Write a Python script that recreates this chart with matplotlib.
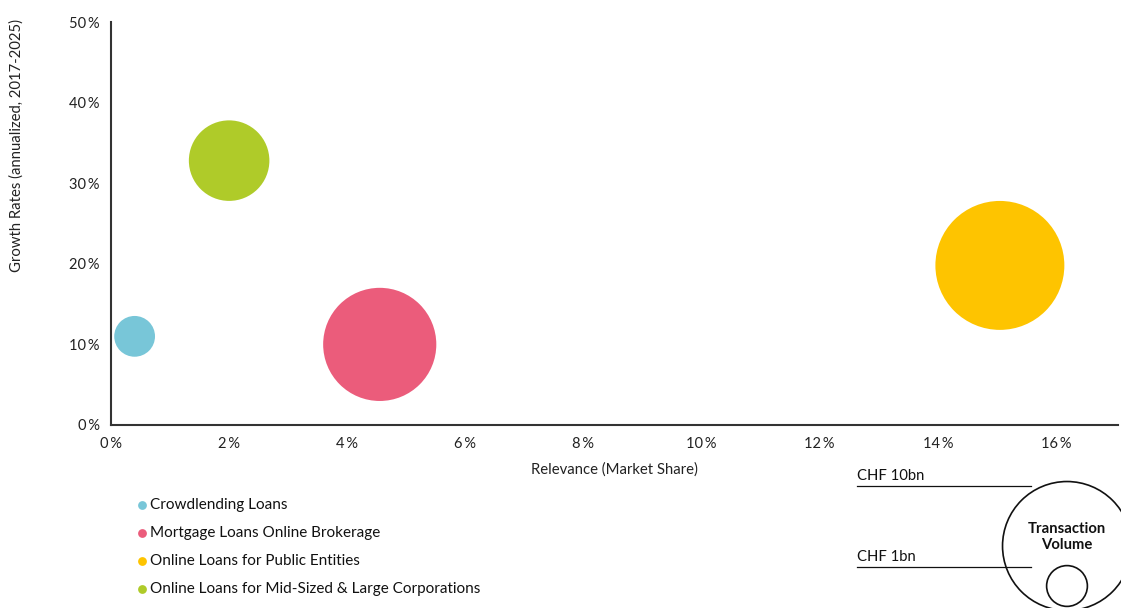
import matplotlib
matplotlib.use("Agg")
import matplotlib.pyplot as plt
from matplotlib.ticker import FuncFormatter

plt.rcParams['font.family'] = ['Lato', 'DejaVu Sans']

# Segments of the Swiss online lending market
segments = [
    "Crowdlending Loans",
    "Mortgage Loans Online Brokerage",
    "Online Loans for Public Entities",
    "Online Loans for Mid-Sized & Large Corporations",
]
market_share = [0.40, 4.55, 15.05, 2.0]      # % market share
growth_rate = [11.0, 10.0, 19.8, 32.8]        # % annualized growth 2017-2025
volume_bn = [1.0, 7.7, 10.0, 3.9]             # transaction volume, CHF bn
colors = ["#78C6D8", "#EB5C7B", "#FEC400", "#AFCB29"]

# Reference volumes for the size key
key_volumes = [10, 1]
key_labels = ["CHF 10bn", "CHF 1bn"]

x_ticks = [0, 2, 4, 6, 8, 10, 12, 14, 16]
y_ticks = [0, 10, 20, 30, 40, 50]

W, H, DPI = 1121, 608, 100
SIZE_PER_BN = 862.0   # marker area (pt^2) per CHF bn

fig = plt.figure(figsize=(W / DPI, H / DPI), dpi=DPI)

ax = fig.add_axes([111 / W, (H - 425) / H, (1118 - 111) / W, (425 - 22) / H])
ax.scatter(market_share, growth_rate, s=[v * SIZE_PER_BN for v in volume_bn],
           c=colors, linewidths=0, clip_on=False, zorder=3)
ax.set_xlim(0, 17.05)
ax.set_ylim(0, 50)
ax.set_xticks(x_ticks)
ax.set_yticks(y_ticks)
pct = FuncFormatter(lambda v, _: f"{v:.0f}\u2009%")
ax.xaxis.set_major_formatter(pct)
ax.yaxis.set_major_formatter(pct)
ax.tick_params(length=0, labelsize=10.5, colors="#222222", pad=8)
ax.tick_params(axis="x", pad=9)
for side in ("top", "right"):
    ax.spines[side].set_visible(False)
for side in ("left", "bottom"):
    ax.spines[side].set_color("#333333")
    ax.spines[side].set_linewidth(1.5)
ax.set_xlabel("Relevance (Market Share)", fontsize=10.7, color="#222222", labelpad=8)

fig.text(17 / W, 1 - 145 / H, "Growth Rates (annualized, 2017-2025)", rotation=90,
         ha="center", va="center", fontsize=10.7, color="#222222")

# Overlay in pixel coordinates for the legend and size key
ov = fig.add_axes([0, 0, 1, 1], facecolor="none")
ov.set_xlim(0, W)
ov.set_ylim(H, 0)
ov.axis("off")

legend_y = [505, 533, 561, 589]
for label, col, y in zip(segments, colors, legend_y):
    ov.scatter([142], [y], s=40, c=col, linewidths=0)
    ov.text(150, y, label, ha="left", va="center", fontsize=11, color="#111111")

# Size key
key_centers = [(1067, 546), (1067, 586)]
key_line_y = [486, 567]
for vol, lab, (cx, cy), ly in zip(key_volumes, key_labels, key_centers, key_line_y):
    ov.scatter([cx], [cy], s=vol * SIZE_PER_BN, facecolors="none",
               edgecolors="#111111", linewidths=1.2, clip_on=False)
    ov.plot([857, 1031], [ly, ly], color="#111111", linewidth=0.9)
    ov.text(857, ly - 3, lab, ha="left", va="bottom", fontsize=10.7, color="#111111")
ov.text(1067, 537, "Transaction\nVolume", ha="center", va="center", fontsize=10.7,
        fontweight="bold", color="#111111", linespacing=1.2)

fig.savefig("out.png", dpi=DPI)
